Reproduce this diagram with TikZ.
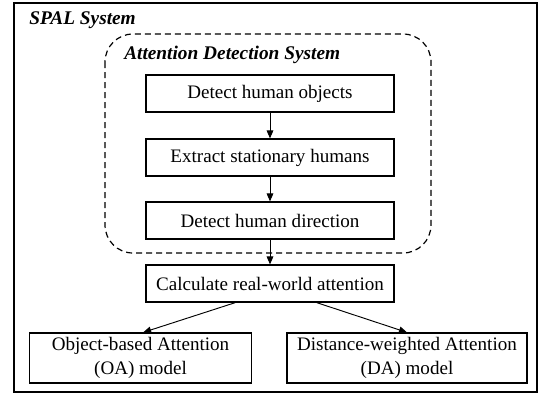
\documentclass[tikz,border=0pt]{standalone}
\usepackage{fontspec}
\setmainfont{Liberation Serif}
\usetikzlibrary{arrows.meta, positioning, calc}

\begin{document}
\begin{tikzpicture}
  [
    x=0.75pt, y=-0.75pt,
    Step/.style={rectangle, draw=black, line width=0.9pt, minimum width=186pt, minimum height=27.75pt, inner sep=2pt, font=\fontsize{14.3}{17}\selectfont},
    Model/.style={rectangle, draw=black, line width=0.9pt, minimum height=37.5pt, align=center, inner sep=2pt, font=\fontsize{14.3}{17.5}\selectfont},
    Title/.style={anchor=west, inner sep=0pt, font=\fontsize{14.5}{17}\selectfont\bfseries\itshape},
    Arrow/.style={-{Triangle[length=6pt, width=5pt]}, draw, line width=0.7pt}
  ]
  \useasboundingbox (0,0) rectangle (539,394);
  % Frames
  \draw[line width=1.1pt] (14,3) rectangle (537,392);
  \draw[line width=0.9pt, dash pattern=on 4.5pt off 3pt, rounded corners=21pt] (105,34) rectangle (431,253);
  % Nodes
  \node[Title] (spal) at (29, 20) {SPAL System};
  \node[Title] (ads) at (124, 55) {Attention Detection System};
  \node[Step] (detect) at (270, 93.5) {Detect human objects};
  \node[Step] (extract) at (270, 157.5) {Extract stationary humans};
  \node[Step] (direction) at (270, 220.5) {Detect human direction};
  \node[Step] (calc) at (270, 283.5) {Calculate real-world attention};
  \node[Model, minimum width=167pt] (oa) at (140.5, 358) {Object-based Attention\\(OA) model};
  \node[Model, minimum width=180pt] (da) at (407, 358) {Distance-weighted Attention\\(DA) model};
  % Lines
  \path [Arrow] (detect) -- (extract);
  \path [Arrow] (extract) -- (direction);
  \path [Arrow] (direction) -- (calc);
  \path [Arrow] ([xshift=-26pt]calc.south) -- ([xshift=2pt]oa.north);
  \path [Arrow] ([xshift=35pt]calc.south) -- (da.north);
\end{tikzpicture}
\end{document}
